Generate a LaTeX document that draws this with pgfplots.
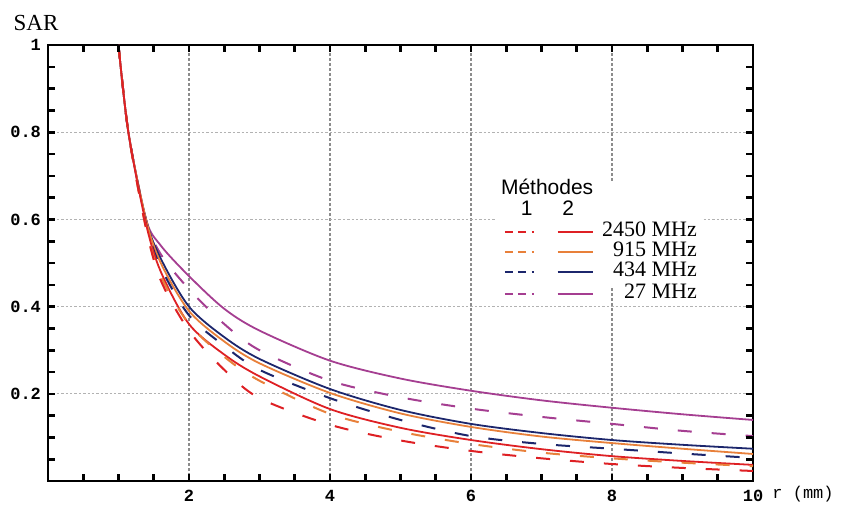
\documentclass[border=0pt]{standalone}
\usepackage{pgfplots}
\pgfplotsset{compat=1.18}
\usepackage{fontspec}
\setmainfont{Liberation Serif}
\newfontfamily\monof{Liberation Mono}
\newfontfamily\sansf{Liberation Sans}

\definecolor{cA}{RGB}{222,32,36}    % 2450 MHz
\definecolor{cB}{RGB}{232,128,58}   % 915 MHz
\definecolor{cC}{RGB}{28,38,108}    % 434 MHz
\definecolor{cD}{RGB}{165,62,145}   % 27 MHz

% method 2 (solid)
\pgfplotstableread{
r     a      b      c      d
1     1      1      1      1
1.14  0.80   0.80   0.80   0.80
1.39  0.59   0.60   0.60   0.60
1.6   0.48   0.50   0.51   0.54
2     0.36   0.39   0.40   0.47
2.5   0.29   0.32   0.33   0.395
3     0.24   0.27   0.28   0.345
4     0.165  0.202  0.211  0.276
5     0.122  0.155  0.163  0.235
6     0.094  0.124  0.131  0.207
7     0.073  0.102  0.110  0.185
8     0.057  0.087  0.094  0.168
9     0.046  0.074  0.083  0.153
10    0.037  0.062  0.074  0.140
}\methodtwo

% method 1 (dashed)
\pgfplotstableread{
r     a      b      c      d
1     1      1      1      1
1.14  0.80   0.80   0.80   0.80
1.39  0.58   0.58   0.59   0.60
1.6   0.46   0.47   0.49   0.52
2     0.345  0.36   0.38   0.44
2.5   0.255  0.285  0.31   0.36
3     0.19   0.23   0.255  0.30
4     0.129  0.154  0.19   0.23
5     0.093  0.113  0.14   0.192
6     0.069  0.085  0.103  0.166
7     0.052  0.065  0.085  0.147
8     0.039  0.052  0.074  0.131
9     0.030  0.042  0.063  0.115
10    0.023  0.034  0.053  0.103
}\methodone

\tikzset{
  m1/.style={line width=1pt, smooth, tension=0.5, dash pattern=on 7pt off 10pt},
  m2/.style={line width=0.9pt, smooth, tension=0.5},
  leg1/.style={line width=1pt, dash pattern=on 4pt off 2.5pt on 4pt off 3pt on 1pt off 5pt},
  leg2/.style={line width=0.9pt},
  legtxt/.style={anchor=east, font=\fontsize{11}{12}\selectfont, inner sep=0pt},
  tk/.style={black, line width=1.3pt},
}

\begin{document}
\begin{tikzpicture}
\begin{axis}[
    at={(0,0)}, anchor=south west,
    scale only axis,
    width=352.5pt, height=218pt,
    xmin=0, xmax=10, ymin=0, ymax=1,
    xtick={2,4,6,8,10}, xticklabels={2,4,6,8,10},
    ytick={0.2,0.4,0.6,0.8,1}, yticklabels={0.2,0.4,0.6,0.8,1},
    tick style={draw=none},
    axis line style={line width=1pt},
    ticklabel style={font=\monof\bfseries\fontsize{8.5}{10}\selectfont},
    xticklabel style={yshift=-1pt},
    xmajorgrids, ymajorgrids,
    x grid style={gray!90, line width=0.6pt, dash pattern=on 1.5pt off 1pt},
    y grid style={gray!60, line width=0.6pt, dash pattern=on 1.2pt off 1pt},
    clip=false,
]
\addplot[cD, m2] table[x=r, y=d] {\methodtwo};
\addplot[cD, m1] table[x=r, y=d] {\methodone};
\addplot[cC, m2] table[x=r, y=c] {\methodtwo};
\addplot[cB, m2] table[x=r, y=b] {\methodtwo};
\addplot[cC, m1] table[x=r, y=c] {\methodone};
\addplot[cA, m2] table[x=r, y=a] {\methodtwo};
\addplot[cB, m1] table[x=r, y=b] {\methodone};
\addplot[cA, m1] table[x=r, y=a] {\methodone};

% tick marks on all four sides
\pgfplotsinvokeforeach{0.5,1,1.5,2,2.5,3,3.5,4,4.5,5,5.5,6,6.5,7,7.5,8,8.5,9,9.5}{
  \draw[tk] (axis cs:#1,0) -- ++(0,3.5pt);
  \draw[tk] (axis cs:#1,1) -- ++(0,-3.5pt);
}
\pgfplotsinvokeforeach{0.05,0.1,0.15,0.2,0.25,0.3,0.35,0.4,0.45,0.5,0.55,0.6,0.65,0.7,0.75,0.8,0.85,0.9,0.95}{
  \draw[tk] (axis cs:0,#1) -- ++(3.5pt,0);
  \draw[tk] (axis cs:10,#1) -- ++(-3.5pt,0);
}

% legend
\fill[white] (6.34,0.683) rectangle (9.28,0.448);
\node[font=\sansf\fontsize{10.5}{12}\selectfont] at (7.08,0.674) {Méthodes};
\node[font=\sansf\fontsize{10.5}{12}\selectfont] at (6.79,0.626) {1};
\node[font=\sansf\fontsize{10.5}{12}\selectfont] at (7.38,0.626) {2};
\draw[cA, leg1] (6.48,0.571) -- (6.91,0.571);
\draw[cA, leg2] (7.23,0.571) -- (7.73,0.571);
\node[legtxt] at (9.21,0.578) {2450 MHz};
\draw[cB, leg1] (6.48,0.525) -- (6.91,0.525);
\draw[cB, leg2] (7.23,0.525) -- (7.73,0.525);
\node[legtxt] at (9.21,0.532) {915 MHz};
\draw[cC, leg1] (6.48,0.479) -- (6.91,0.479);
\draw[cC, leg2] (7.23,0.479) -- (7.73,0.479);
\node[legtxt] at (9.21,0.486) {434 MHz};
\draw[cD, leg1] (6.48,0.429) -- (6.91,0.429);
\draw[cD, leg2] (7.23,0.429) -- (7.73,0.429);
\node[legtxt] at (9.21,0.436) {27 MHz};
\end{axis}
\node[anchor=west, font=\monof\fontsize{8.5}{10}\selectfont, inner sep=0pt] at (362pt,-6.5pt) {r (mm)};
\node[font=\fontsize{11.5}{13}\selectfont] at (-6pt,229pt) {SAR};
\pgfresetboundingbox
\path[use as bounding box] (-24pt,-14.5pt) rectangle (396.5pt,240.5pt);
\end{tikzpicture}
\end{document}
